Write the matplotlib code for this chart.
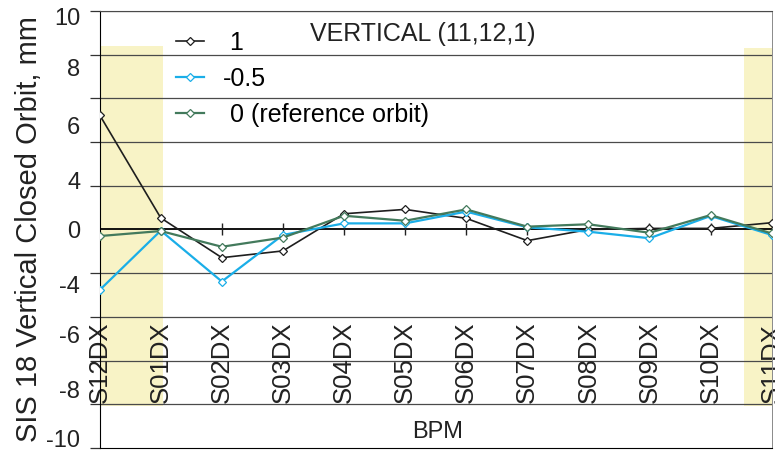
import numpy as np
import matplotlib
matplotlib.use('Agg')
import matplotlib.pyplot as plt

plt.rcParams['font.family'] = ['Liberation Sans', 'DejaVu Sans']

# BPM names along the ring
bpms = ["S12DX", "S01DX", "S02DX", "S03DX", "S04DX", "S05DX",
        "S06DX", "S07DX", "S08DX", "S09DX", "S10DX", "S11DX"]

# vertical closed orbit readings (mm) for each corrector setting
orbit_1 = [5.24, 0.53, -1.29, -0.98, 0.72, 0.92, 0.51, -0.51, 0.0, 0.05, 0.05, 0.31]
orbit_m05 = [-2.77, -0.05, -2.38, -0.25, 0.28, 0.28, 0.82, 0.1, -0.1, -0.4, 0.62, -0.25]
orbit_ref = [-0.3, -0.07, -0.79, -0.37, 0.63, 0.4, 0.92, 0.13, 0.24, -0.15, 0.66, -0.18]

series_labels = [" 1", "-0.5", " 0 (reference orbit)"]

# y tick labels as printed on the original (placed where they appear)
ytick_text = ["10", "8", "6", "4", "0", "-4", "-6", "-8", "-10"]
ytick_pos = [9.75, 7.4, 4.75, 2.25, 0.0, -2.5, -4.8, -7.3, -9.55]

fig = plt.figure(figsize=(7.75, 4.54), dpi=100)
ax = fig.add_axes([0.1286, 0.0132, 0.8671, 0.9626])

x = np.arange(len(bpms))
ax.set_xlim(0, len(bpms) - 1)
ax.set_ylim(-10, 10)

# shaded sections at the ring ends
band = '#f8f3c6'
ax.axvspan(0, 1.04, ymin=(-8.1 + 10) / 20, ymax=(8.4 + 10) / 20, color=band, zorder=0, lw=0)
ax.axvspan(10.55, 11, ymin=(-8.1 + 10) / 20, ymax=(8.3 + 10) / 20, color=band, zorder=0, lw=0)

# horizontal grid every 2 mm
for g in np.arange(-8, 11, 2):
    if g == 0:
        continue
    ax.axhline(g, color='#4a4a4a', lw=0.9, zorder=1)
ax.axhline(0, color='black', lw=1.3, zorder=1)
ax.plot(x[2:], np.zeros(len(x) - 2), ls='none', marker='|', ms=9, mew=1.0,
        color='#222222', zorder=1)

ax.plot(x, orbit_1, color='#1e1e1e', lw=1.2, marker='D', ms=4.5, mfc='white',
        mec='#1e1e1e', mew=0.9, label=series_labels[0], zorder=3)
ax.plot(x, orbit_m05, color='#1aaee8', lw=1.6, marker='D', ms=4.5, mfc='white',
        mec='#1aaee8', mew=0.9, label=series_labels[1], zorder=3)
ax.plot(x, orbit_ref, color='#437a5c', lw=1.6, marker='D', ms=4.5, mfc='white',
        mec='#437a5c', mew=0.9, label=series_labels[2], zorder=3)

# BPM names written inside the plot
for xi, name in zip(x, bpms):
    ax.text(xi, -7.95, name, rotation=90, ha='center', va='bottom',
            fontsize=18.5, color='#222222', zorder=2)

ax.text(5.53, -9.27, "BPM", ha='center', va='center', fontsize=17, color='#222222')
ax.text(3.45, 8.95, "VERTICAL (11,12,1)", ha='left', va='center', fontsize=18,
        color='#222222')

# y axis
ax.set_yticks(np.arange(-10, 11, 2), minor=True)
ax.tick_params(axis='y', which='minor', length=7, width=0.9, color='#333333')
ax.set_yticks(ytick_pos)
ax.set_yticklabels(ytick_text, fontsize=17, color='#222222')
ax.tick_params(axis='y', which='major', length=0, pad=14)
ax.set_xticks([])
ax.set_ylabel("SIS 18 Vertical Closed Orbit, mm", fontsize=21, color='#222222',
              labelpad=2)

ax.spines['left'].set_color('black')
ax.spines['bottom'].set_color('black')
ax.spines['top'].set_color('#4a4a4a')
ax.spines['right'].set_color('#8a8a8a')
ax.spines['right'].set_linewidth(0.7)

ax.legend(loc='upper left', bbox_to_anchor=(0.114, 0.955), frameon=False,
          fontsize=18, handlelength=1.1, handletextpad=0.75, labelspacing=0.48,
          borderpad=0, borderaxespad=0)

fig.savefig("out.png", dpi=100)
